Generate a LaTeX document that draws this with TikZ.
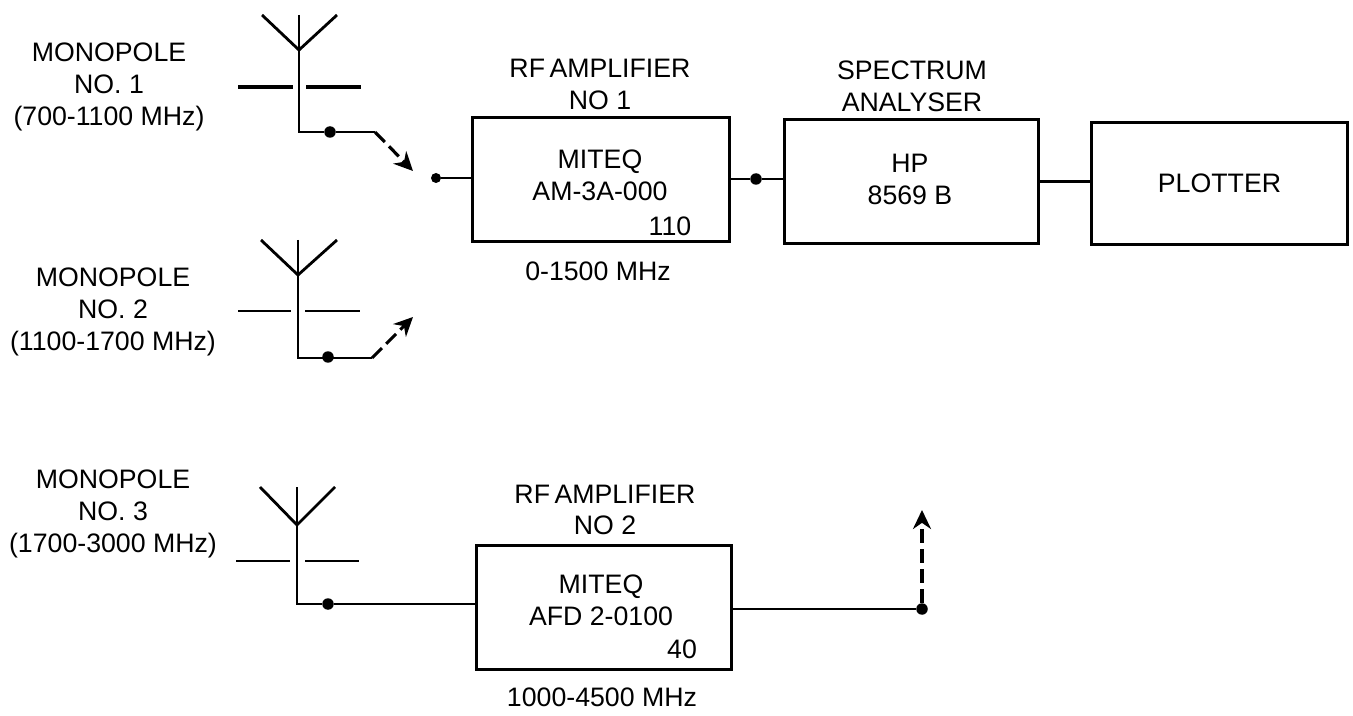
\documentclass[tikz,border=0pt]{standalone}
\usepackage{fontspec}
\setmainfont{Liberation Sans}
\usetikzlibrary{arrows.meta}
\tikzset{
  block/.style={draw, line width=1.7pt, inner sep=0pt},
  lbl/.style={align=center, inner sep=0pt, font=\fontsize{15.2}{18.1}\selectfont},
  dot/.style={circle, fill=black, inner sep=0pt, minimum size=0.23cm},
  wire/.style={line width=1.6pt},
  bar/.style={line width=2pt},
  swing/.style={line width=1.8pt, dash pattern=on 0.28cm off 0.12cm, -{Stealth[length=0.38cm,width=0.36cm]}}
}
\begin{document}
\begin{tikzpicture}[x=0.02cm,y=-0.02cm]
\useasboundingbox (0,0) rectangle (1353,716);
% labels on the left
\node[lbl] (monoA) at (109,87) {MONOPOLE\\NO. 1\\(700-1100 MHz)};
\node[lbl] (monoB) at (113,312) {MONOPOLE\\NO. 2\\(1100-1700 MHz)};
\node[lbl] (monoC) at (113,514) {MONOPOLE\\NO. 3\\(1700-3000 MHz)};
% blocks
\node[block, minimum width=5.13cm, minimum height=2.5cm] (ampA) at (601,179.5) {};
\node[block, minimum width=5.1cm, minimum height=2.48cm] (spec) at (911.5,181.5) {};
\node[block, minimum width=5.14cm, minimum height=2.46cm, lbl] (plot) at (1219.5,183.5) {PLOTTER};
\node[block, minimum width=5.12cm, minimum height=2.5cm] (ampB) at (604,607.5) {};
\node[lbl] (ampAtxt) at (600,175) {MITEQ\\AM-3A-000};
\node[lbl] (ampAnum) at (670,226) {110};
\node[lbl] (specTxt) at (910,179.5) {HP\\8569 B};
\node[lbl] (ampBtxt) at (601,600) {MITEQ\\AFD 2-0100};
\node[lbl] (ampBnum) at (682,649) {40};
\node[lbl] (ampAtop) at (600,84.5) {RF\,AMPLIFIER\\NO 1};
\node[lbl] (specTop) at (912,86.5) {SPECTRUM\\ANALYSER};
\node[lbl] (ampBtop) at (605,510) {RF\,AMPLIFIER\\NO 2};
\node[lbl] (ampAbot) at (598,271) {0-1500 MHz};
\node[lbl] (ampBbot) at (602,697) {1000-4500 MHz};
% antenna 1
\coordinate (apexA) at (299,50);
\coordinate (footA) at (299,132);
\coordinate (kneeA) at (375,132);
\coordinate (tipA) at (413,171);
\node[dot] (dotA) at (330,132) {};
\node[dot, minimum size=0.2cm] (inA) at (436,178) {};
\node[dot] (joinA) at (756,179) {};
\draw[wire] (262,15) -- (apexA) -- (337,15);
\draw[wire] (299,15) -- (apexA) -- (footA) -- (dotA) -- (kneeA);
\draw[bar] (238,87) -- (293,87) (306,87) -- (361,87);
\draw[swing] (kneeA) -- (tipA);
\draw[wire] (inA) -- (inA -| ampA.west);
\draw[wire] (joinA -| ampA.east) -- (joinA) -- (joinA -| spec.west);
\draw[wire, line width=2pt] (spec.east) -- (spec.east -| plot.west);
% antenna 2
\coordinate (apexB) at (298,275);
\coordinate (footB) at (298,358);
\coordinate (kneeB) at (372,358);
\coordinate (tipB) at (413,317);
\node[dot] (dotB) at (328,357) {};
\draw[wire] (261,240) -- (apexB) -- (337,240);
\draw[wire] (298,240) -- (apexB) -- (footB) -- (kneeB);
\draw[wire] (238,311) -- (291,311) (305,311) -- (360,311);
\draw[swing] (kneeB) -- (tipB);
% antenna 3
\coordinate (apexC) at (297,525);
\coordinate (footC) at (297,604);
\node[dot] (dotC) at (328,604) {};
\node[dot] (outC) at (922,609) {};
\coordinate (tipC) at (922,510);
\draw[wire] (260,487) -- (apexC) -- (335,487);
\draw[wire] (297,487) -- (apexC) -- (footC) -- (dotC) -- (dotC -| ampB.west);
\draw[wire] (236,561) -- (290,561) (305,561) -- (359,561);
\draw[wire] (outC -| ampB.east) -- (outC);
\draw[swing] (outC) -- (tipC);
\end{tikzpicture}
\end{document}
